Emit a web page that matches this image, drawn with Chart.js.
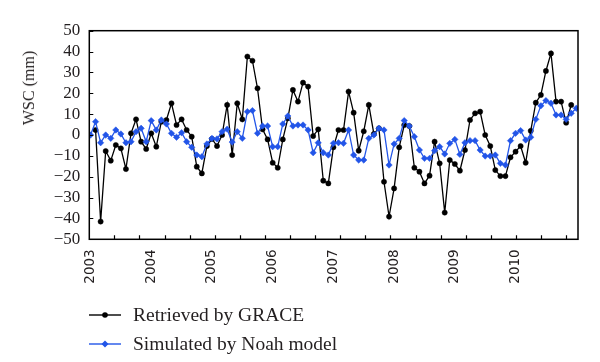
<!DOCTYPE html>
<html><head><meta charset="utf-8">
<script src="https://cdn.jsdelivr.net/npm/chart.js@4.4.0/dist/chart.umd.min.js"></script>
<style>
html,body{margin:0;padding:0;background:#fff;}
#wrap{position:relative;width:600px;height:362px;overflow:hidden;}
#c{position:absolute;left:0;top:0;}
#ytitle{position:absolute;left:29px;top:88px;transform:translate(-50%,-50%) rotate(-90deg);font-family:"Liberation Serif",serif;font-size:16px;white-space:nowrap;color:#231f20;}
.leg{position:absolute;left:89px;height:22px;display:flex;align-items:center;font-family:"Liberation Serif",serif;font-size:19.5px;color:#231f20;white-space:nowrap;}
.leg svg{margin-right:12px;}
</style></head>
<body><div id="wrap"><canvas id="c" width="600" height="362"></canvas>
<div id="ytitle">WSC (mm)</div>
<div class="leg" style="top:304px"><svg width="32" height="22"><line x1="0" y1="11" x2="32" y2="11" stroke="#000" stroke-width="1.4"/><circle cx="16" cy="11" r="2.8" fill="#000"/></svg>Retrieved by GRACE</div>
<div class="leg" style="top:333px"><svg width="32" height="22"><line x1="0" y1="11" x2="32" y2="11" stroke="#2255e8" stroke-width="1.4"/><polygon points="16,7.5 19.5,11 16,14.5 12.5,11" fill="#2255e8"/></svg>Simulated by Noah model</div>
</div>
<script>
// x values are months since Jan 2003 (index of each value)
const yearLabels = ['2003','2004','2005','2006','2007','2008','2009','2010'];
const yearTickMonths = [0, 12, 24, 36, 48, 60, 72, 84];
const yTicks = [-50,-40,-30,-20,-10,0,10,20,30,40,50];

// Retrieved by GRACE (mm), monthly, Jan 2003 .. Jan 2011
const grace = [null, 2.4, -41.5, -7.7, -12.3, -4.8, -6.4, -16.3, 0.8, 7.5, -3.2, -6.7,
 0.8, -5.6, 6.4, 7.2, 15.2, 4.8, 7.5, 2.4, -0.8, -15.2, -18.4, -5.3,
 -1.9, -5.3, 0, 14.4, -9.6, 15.2, 7.5, 37.6, 35.6, 22.4, 2.7, -2.1,
 -13.3, -15.7, -2.1, 8, 21.6, 16, 25.1, 23.2, -0.5, 2.7, -21.9, -23.2,
 -5.9, 2.4, 2.4, 20.8, 10.7, -7.5, 1.8, 14.4, 0.5, 3.2, -22.4, -39.1,
 -25.6, -5.9, 4.8, 4.3, -15.7, -17.6, -23.2, -19.5, -3.2, -13.6, -37.2, -12,
 -13.9, -17.1, -7.2, 7.2, 10.4, 11.2, 0, -5.3, -16.8, -19.7, -19.7, -10.7,
 -8, -5.3, -13.3, 2, 15.5, 19.2, 30.7, 39.1, 16, 16, 5.9, 14.4,
 null];

// Simulated by Noah model (mm)
const noah = [0, 6.4, -3.7, 0, -1.6, 2.4, 0.5, -3.7, -3.2, 1.6, 3.2, -3.2,
 6.9, 2.4, 7.2, 5.3, 0.8, -1.1, 1.1, -3.2, -5.9, -9.6, -10.4, -4.3,
 -1.6, -1.9, 1.6, 2.8, -3.4, 1.6, -1.6, 11.2, 11.7, 0.8, 4.3, 4.3,
 -5.6, -5.6, 5.3, 9.1, 4.3, 4.8, 4.8, 2.4, -8.5, -3.7, -8.5, -9.6,
 -4, -3.7, -4, 2.4, -9.6, -12, -12, -1.6, 0, 3.2, 2.4, -14.4,
 -4.3, -1.6, 6.9, 4.3, -0.8, -7.2, -11.2, -11.2, -7.5, -5.6, -9.1, -4,
 -2.1, -9.3, -3.7, -2.7, -2.7, -7.2, -10.1, -10.1, -9.6, -13.6, -14.4, -2.7,
 0.8, 2.1, -2.4, -1.1, 7.5, 14, 16.5, 15.2, 9.6, 9.6, 7.5, 10.4,
 12.8];

const X_MIN = -0.24, X_MAX = 96.34, TICK_STEP = 4.96;
const toPts = arr => arr.map((v, i) => ({x: i, y: v}));

const framePlugin = {
  id: 'frame',
  afterDraw(chart) {
    const {ctx, chartArea: a, scales} = chart;
    ctx.save();
    ctx.strokeStyle = '#000';
    ctx.lineWidth = 1.2;
    ctx.beginPath();
    for (let k = 1; X_MIN + k * TICK_STEP < X_MAX - 0.5; k++) {
      const px = Math.round(scales.x.getPixelForValue(X_MIN + k * TICK_STEP)) + 0.5;
      ctx.moveTo(px, a.bottom); ctx.lineTo(px, a.bottom - 4);
    }
    yTicks.forEach(v => {
      const py = Math.round(scales.y.getPixelForValue(v)) + 0.5;
      ctx.moveTo(a.left, py); ctx.lineTo(a.left + 4, py);
    });
    ctx.stroke();
    ctx.lineWidth = 1.5;
    ctx.strokeRect(a.left, a.top, a.right - a.left, a.bottom - a.top);
    ctx.restore();
  }
};

new Chart(document.getElementById('c'), {
  type: 'line',
  data: {
    datasets: [
      {label: 'Retrieved by GRACE', data: toPts(grace), borderColor: '#000', backgroundColor: '#000',
       borderWidth: 1.3, pointStyle: 'circle', pointRadius: 2.6, pointBorderWidth: 0.5,
       pointBackgroundColor: '#000', pointBorderColor: '#000', order: 2},
      {label: 'Simulated by Noah model', data: toPts(noah), borderColor: '#2255e8', backgroundColor: '#2255e8',
       borderWidth: 1.3, pointStyle: 'rectRot', pointRadius: 3.2, pointBorderWidth: 0.5,
       pointBackgroundColor: '#2255e8', pointBorderColor: '#2255e8', order: 1}
    ]
  },
  options: {
    responsive: false, animation: false, devicePixelRatio: 1,
    layout: {padding: {left: 0, right: 22, top: 30.7, bottom: 72.7}},
    plugins: {legend: {display: false}, tooltip: {enabled: false}},
    scales: {
      x: {
        type: 'linear', min: X_MIN, max: X_MAX,
        grid: {display: false, drawTicks: false}, border: {display: false},
        afterBuildTicks: s => { s.ticks = yearTickMonths.map(v => ({value: v})); },
        afterFit: s => { s.height = 50; },
        ticks: {autoSkip: false, minRotation: 90, maxRotation: 90, padding: 10, color: '#231f20',
          font: {family: 'DejaVu Sans', size: 13.5},
          callback: (v, i) => yearLabels[i]}
      },
      y: {
        min: -50, max: 50,
        grid: {display: false, drawTicks: false}, border: {display: false},
        afterBuildTicks: s => { s.ticks = yTicks.map(v => ({value: v})); },
        afterFit: s => { s.width = 89.3; },
        ticks: {autoSkip: false, padding: 9, color: '#231f20', font: {family: 'Liberation Serif', size: 17},
          callback: v => v < 0 ? '\u2212' + Math.abs(v) : String(v)}
      }
    }
  },
  plugins: [framePlugin]
});
</script>
</body></html>
